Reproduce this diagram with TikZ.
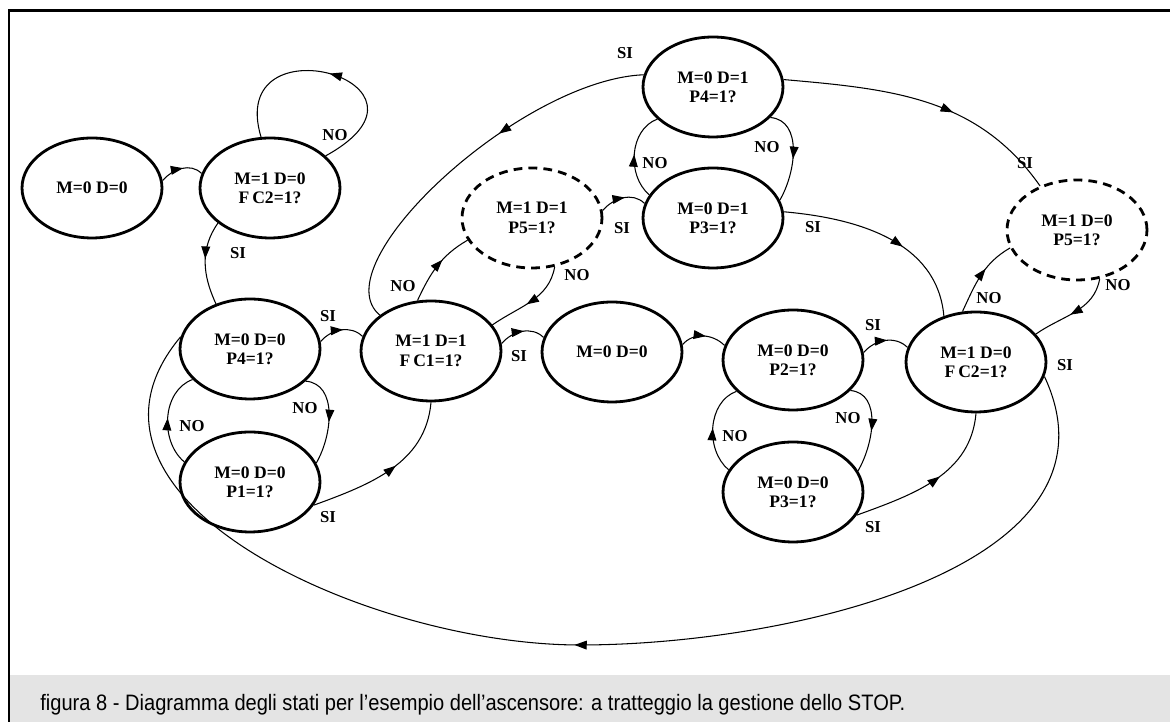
\documentclass[tikz,border=0pt]{standalone}
\usepackage{fontspec}
\setmainfont{Liberation Serif}
\newfontfamily\capfont[FakeStretch=0.9]{Liberation Sans}
\usetikzlibrary{shapes.geometric,arrows.meta,decorations.markings}

\definecolor{capgray}{RGB}{228,228,228}

\tikzset{
  state/.style={ellipse, draw, line width=1.6pt, minimum width=2.8cm,
    minimum height=2cm, inner sep=0pt, align=center,
    font=\bfseries\fontsize{10}{11}\selectfont},
  stopstate/.style={state, dash pattern=on 5pt off 3.5pt},
  trans/.style={line width=0.6pt},
  midarr/.style={postaction={decorate}, decoration={markings,
    mark=at position #1 with {\arrow{Triangle[length=7pt,width=5pt]}}}},
  midarr/.default=0.5,
  lbl/.style={font=\bfseries\fontsize{9.5}{11}\selectfont, inner sep=1pt}
}

\begin{document}
\begin{tikzpicture}[x=0.02cm, y=0.02cm]
  \useasboundingbox (0,0) rectangle (1170,722);

  % Caption band and frame
  \fill[capgray] (9,0) rectangle (1170,47);
  \draw[line width=1.7pt] (9,0) -- (9,711) -- (1170,711);
  \node[anchor=west, inner sep=0pt, font=\capfont\fontsize{12.7}{14}\selectfont] (caption) at (40,17)
    {figura 8 - Diagramma degli stati per l’esempio dell’ascensore: a tratteggio la gestione dello STOP.};

  % States
  \node[state] (s0) at (92,534) {M=0 D=0};
  \node[state] (fcA) at (270,534) {M=1 D=0\\F\,C2=1?};
  \node[state] (p4A) at (250,373) {M=0 D=0\\P4=1?};
  \node[state] (p1A) at (250,240) {M=0 D=0\\P1=1?};
  \node[state] (fc1) at (431,371) {M=1 D=1\\F\,C1=1?};
  \node[state] (mid) at (612,370) {M=0 D=0};
  \node[state] (p2) at (793,362) {M=0 D=0\\P2=1?};
  \node[state] (p3A) at (793,230) {M=0 D=0\\P3=1?};
  \node[state] (fcB) at (976,360) {M=1 D=0\\F\,C2=1?};
  \node[state] (p3D) at (713,504) {M=0 D=1\\P3=1?};
  \node[state] (p4D) at (713,635) {M=0 D=1\\P4=1?};

  % STOP states (dashed)
  \node[stopstate] (stopA) at (532,504) {M=1 D=1\\P5=1?};
  \node[stopstate] (stopB) at (1077,492) {M=1 D=0\\P5=1?};

  % Short arcs between neighbours
  \foreach \a/\b in {s0/fcA, p4A/fc1, fc1/mid, mid/p2, p2/fcB, stopA/p3D}
    \draw[trans, midarr=0.55] (\a.6) to[out=50, in=135] (\b.168);

  % Waiting loops
  \draw[trans, midarr] (fcA.30) .. controls (460,640) and (225,705) .. (fcA.100);
  \draw[trans, midarr=0.55] (p4A.-30) to[out=-5, in=60] (p1A.16);
  \draw[trans, midarr] (p1A.163) to[out=140, in=200] (p4A.208);
  \draw[trans, midarr=0.55] (p2.-28) to[out=-5, in=60] (p3A.18);
  \draw[trans, midarr] (p3A.161) to[out=140, in=200] (p2.209);
  \draw[trans, midarr=0.55] (p4D.-28) to[out=-5, in=60] (p3D.15);
  \draw[trans, midarr] (p3D.160) to[out=140, in=200] (p4D.210);

  % Other transitions
  \draw[trans, midarr=0.45] (fcA.214) to[out=235, in=115] (p4A.127);
  \draw[trans, midarr=0.55] (p1A.-20) to[out=20, in=-95] (fc1.270);
  \draw[trans, midarr=0.6] (fc1.105) to[out=65, in=210] (stopA.199);
  \draw[trans, midarr=0.55] (stopA.295) to[out=260, in=35] (fc1.23);
  \draw[trans, midarr=0.55] (p3A.-20) to[out=20, in=-95] (fcB.270);
  \draw[trans, midarr=0.6] (fcB.105) to[out=65, in=210] (stopB.195);
  \draw[trans, midarr=0.55] (stopB.295) to[out=260, in=35] (fcB.25);
  \draw[trans, midarr=0.6] (p3D.5) to[out=-5, in=95] (fcB.125);
  \draw[trans, midarr=0.6] (p4D.6) to[out=-5, in=125] (stopB.130);
  \draw[trans, midarr=0.4] (p4D.170) .. controls (520,642) and (320,457) .. (fc1.145);

  % Return to the ground floor
  \coordinate (bottom) at (580,77);
  \draw[trans, midarr=0.51] (fcB.-12) to[out=-65, in=0] (bottom)
    to[out=180, in=230, looseness=1.07] (p4A.170);

  % Labels
  \foreach \x/\y/\t [count=\i] in {
      335/587/NO, 238/469/SI, 328/406/SI, 305/314/NO, 192/296/NO,
      328/205/SI, 403/436/NO, 577/447/NO, 519/366/SI, 848/304/NO,
      735/286/NO, 873/397/SI, 873/195/SI, 989/424/NO, 1118/437/NO,
      813/495/SI, 1025/559/SI, 625/669/SI, 622/494/SI, 767/575/NO,
      655/559/NO, 1065/357/SI}
    \node[lbl] (lab\i) at (\x,\y) {\t};
\end{tikzpicture}
\end{document}
